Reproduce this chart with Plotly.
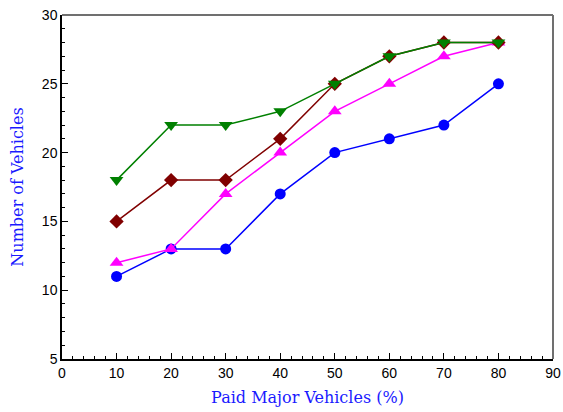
import plotly.graph_objects as go

x = [10, 20, 30, 40, 50, 60, 70, 80]
blue = [11, 13, 13, 17, 20, 21, 22, 25]
magenta = [12, 13, 17, 20, 23, 25, 27, 28]
darkred = [15, 18, 18, 21, 25, 27, 28, 28]
green = [18, 22, 22, 23, 25, 27, 28, 28]

series = [
    (blue, "#0000ff", "circle", 11),
    (magenta, "#ff00ff", "triangle-up", 12),
    (darkred, "#800000", "diamond", 11),
    (green, "#008000", "triangle-down", 12),
]

fig = go.Figure()
for ys, col, sym, sz in series:
    fig.add_trace(go.Scatter(x=x, y=ys, mode="lines+markers",
                             line=dict(color=col, width=1.5),
                             marker=dict(color=col, symbol=sym, size=sz),
                             showlegend=False, cliponaxis=False))

axis_common = dict(showgrid=False, zeroline=False, showline=True, linecolor="black",
                   linewidth=1.5, mirror=False, ticks="inside", ticklen=6, tickcolor="black",
                   automargin=False,
                   tickfont=dict(family="Liberation Sans", size=14, color="black"))
fig.update_xaxes(range=[0, 90], dtick=10,
                 minor=dict(dtick=2, ticks="inside", ticklen=3, tickcolor="black"),
                 title=dict(text="Paid Major Vehicles (%)",
                            font=dict(family="DejaVu Serif", size=16, color="#1a1aff"), standoff=12),
                 **axis_common)
fig.update_yaxes(range=[5, 30], dtick=5,
                 minor=dict(dtick=1, ticks="inside", ticklen=3, tickcolor="black"),
                 title=dict(text="Number of Vehicles",
                            font=dict(family="DejaVu Serif", size=16, color="#1a1aff"), standoff=14),
                 **axis_common)
fig.add_shape(type="line", xref="paper", yref="paper", x0=0, x1=1, y0=1, y1=1,
              line=dict(color="#404040", width=1.5))
fig.add_shape(type="line", xref="paper", yref="paper", x0=1, x1=1, y0=0, y1=1,
              line=dict(color="#707070", width=2))
fig.update_layout(width=563, height=412, margin=dict(l=62, r=10, t=15, b=53, autoexpand=False),
                  plot_bgcolor="white", paper_bgcolor="white")
fig.write_html("out.html")
